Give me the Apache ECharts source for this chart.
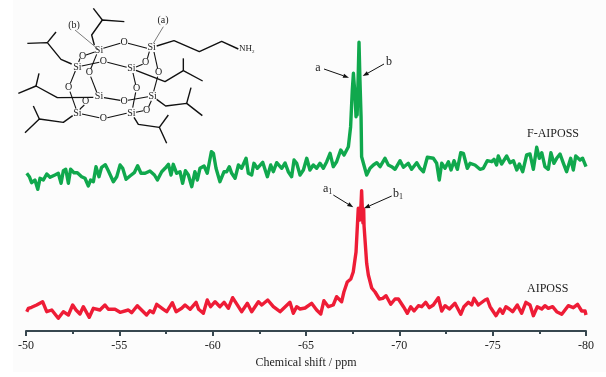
<!DOCTYPE html>
<html>
<head>
<meta charset="utf-8">
<style>html,body{margin:0;padding:0;background:#fff}#chart{width:606px;height:377px}</style>
<script src="https://cdn.jsdelivr.net/npm/echarts@6/dist/echarts.min.js"></script>
</head>
<body>
<div id="chart"></div>
<script>
// values, intensity in arbitrary units
const ppmF = [-50.04,-50.18,-50.30,-50.48,-50.63,-50.75,-50.93,-51.11,-51.29,-51.55,-51.73,-51.88,-52.00,-52.13,-52.27,-52.39,-52.57,-52.75,-52.98,-53.16,-53.34,-53.46,-53.61,-53.75,-53.91,-54.05,-54.25,-54.41,-54.68,-54.86,-55.04,-55.18,-55.36,-55.57,-55.80,-55.98,-56.16,-56.38,-56.64,-56.88,-57.04,-57.27,-57.45,-57.63,-57.77,-57.89,-58.07,-58.25,-58.39,-58.54,-58.70,-58.88,-59.05,-59.18,-59.32,-59.54,-59.71,-59.93,-60.04,-60.18,-60.39,-60.61,-60.75,-60.89,-61.02,-61.20,-61.38,-61.55,-61.79,-61.91,-62.09,-62.21,-62.39,-62.68,-62.93,-63.11,-63.25,-63.43,-63.70,-63.88,-64.05,-64.23,-64.36,-64.50,-64.68,-64.86,-65.04,-65.21,-65.39,-65.57,-65.75,-65.93,-66.11,-66.29,-66.46,-66.64,-66.86,-67.04,-67.27,-67.39,-67.48,-67.54,-67.63,-67.68,-67.71,-67.74,-67.80,-67.84,-67.89,-67.95,-67.98,-68.07,-68.25,-68.43,-68.61,-68.79,-68.97,-69.23,-69.41,-69.59,-69.77,-70.04,-70.22,-70.48,-70.66,-70.93,-71.11,-71.29,-71.50,-71.82,-72.00,-72.14,-72.27,-72.45,-72.63,-72.77,-72.93,-73.11,-73.29,-73.43,-73.64,-73.79,-74.05,-74.32,-74.50,-74.71,-74.95,-75.07,-75.21,-75.30,-75.48,-75.75,-75.93,-76.11,-76.29,-76.43,-76.61,-76.82,-77.00,-77.18,-77.36,-77.50,-77.63,-77.80,-77.98,-78.12,-78.28,-78.43,-78.61,-78.79,-78.96,-79.18,-79.32,-79.45,-79.68,-79.82,-80.00];
const intensityF = [157.7,154.3,148.3,151,141.7,152.7,151,157,153.7,156,157.7,147.7,160.3,161.7,147.7,161.7,158.3,158.3,154.3,152.7,145,151,149.3,164.3,154.3,163.7,166.3,160.3,149.3,154.3,166,162.7,151.7,155,158.3,165.3,157.7,157.7,160,156,151,159.3,162.7,166.7,156,166.7,157.7,159.3,147.7,160.3,156,144.3,159.3,151,162.7,165,157.7,179.3,177.7,162.7,149.3,159.3,159.3,164.3,157.7,152.7,166,162.7,172.7,157.7,156,167.7,162.7,168.7,154.3,166,159.3,168.3,162.7,168,159.3,154.3,171,167.7,156,161,172.7,161,166,162.7,167.7,162.7,169.3,177.7,164.3,169.3,181,176,184.3,204.3,241,257.7,234.3,214.3,240,216,257.7,288.7,251,214.3,174.3,172.7,156,162.7,166,168.3,164.3,172.7,166,164.3,161.7,170.3,163.7,167.7,161.7,168.3,162.7,159.3,173.7,172.7,167.7,151,167.7,162.7,169.3,161,170.3,161.7,178.3,177.7,162.7,167.7,166,161.7,162.7,170.3,169.3,171.7,166,175,167,175,168.3,170.3,161,167,159.3,176,177,161.7,183.7,172.7,178.3,164.3,161.7,178.3,167.7,172.7,177,167.7,159.3,172.7,161,175,171,172.7,164.3];

const ppmA = [-50.04,-50.13,-50.30,-50.57,-50.89,-51.11,-51.38,-51.73,-52.00,-52.27,-52.50,-52.68,-52.89,-53.07,-53.39,-53.61,-53.96,-54.23,-54.41,-54.77,-55.04,-55.48,-55.66,-55.96,-56.46,-56.64,-56.82,-57.00,-57.36,-57.54,-57.84,-58.04,-58.34,-58.52,-58.79,-59.11,-59.25,-59.50,-59.71,-59.89,-60.13,-60.39,-60.61,-60.84,-61.07,-61.38,-61.55,-61.86,-62.09,-62.45,-62.63,-62.95,-63.25,-63.61,-64.14,-64.32,-64.50,-64.68,-64.95,-65.30,-65.57,-65.79,-65.96,-66.20,-66.46,-66.64,-66.91,-67.03,-67.21,-67.40,-67.53,-67.68,-67.75,-67.80,-67.89,-67.95,-67.98,-68.02,-68.05,-68.09,-68.11,-68.25,-68.34,-68.52,-68.70,-68.93,-69.11,-69.29,-69.54,-69.77,-69.95,-70.22,-70.43,-70.61,-70.79,-71.02,-71.20,-71.41,-71.61,-71.82,-72.09,-72.27,-72.45,-72.68,-72.98,-73.29,-73.46,-73.70,-73.88,-74.00,-74.23,-74.32,-74.59,-74.71,-74.86,-75.18,-75.39,-75.54,-75.71,-75.89,-76.07,-76.32,-76.55,-76.78,-77.00,-77.18,-77.39,-77.63,-77.80,-77.98,-78.21,-78.43,-78.70,-79.05,-79.32,-79.55,-79.77,-79.95,-80.00];
const intensityA = [19.3,22.7,23.7,26,29.3,19.3,21,12.7,19.3,16,26,21,17,24.3,13.7,22.7,21,26,21.7,21.7,18.7,21,18.3,25.3,16,20.3,18.3,26.7,21.7,19.3,28.3,19.3,22.7,26,21.7,28.7,21.7,17.7,31,24.3,29.3,24.3,28.7,22.7,33.3,24.3,19.3,27.7,19.3,29.3,26,31,24.3,19.3,28.7,17.7,24.3,22,23,27.7,21,17,30.3,24.3,26,34.3,29.3,39,49,52,59,79,104.3,122.7,111,127.7,140.3,121,108,122,105,67.7,56,43,39,32,32.7,35.3,26.7,32,32,24.3,17.7,24.3,20,25.3,24.3,28.7,23.3,26,33.3,20,25.3,22,27.7,16.7,24.3,28.7,26,32.7,26,27.7,31,32,24.3,15.3,22,17.7,24.3,22,19.3,26,17.7,28.7,26,15.3,24.3,22,25.3,22.7,24.3,19.3,16.7,25.3,23.3,26.7,20,20,16];

const xRange = [-80, -50];
const xStep = 5;

const seriesNames = ['F-AIPOSS', 'AIPOSS'];
const seriesColors = ['#10a84d', '#ee1c36'];
const axisTitle = 'Chemical shift / ppm';

const serif = '"Liberation Serif", "Times New Roman", serif';
const inkColor = '#1c1c1c';

// POSS structure, traced at 3x from the figure
const chains = [
  [[283,135],[275,105],[307,60],[373,65]], [[307,60],[280,25]],
  [[215,192],[183,178],[142,128],[82,130]], [[142,128],[168,96]],
  [[280,292],[172,293],[108,258],[55,280]], [[108,258],[117,220]],
  [[218,347],[190,367],[118,357],[75,398]], [[118,357],[100,318]],
  [[402,352],[415,373],[478,382],[500,430]], [[478,382],[505,345]],
  [[470,298],[497,318],[560,310],[607,347]], [[560,310],[573,263]],
  [[408,211],[495,245],[550,212],[608,243]], [[550,212],[550,175]],
  [[470,138],[522,122],[598,155],[665,124],[715,147]]
];
const cageBonds = [
  [[310,145],[361,130]], [[384,130],[441,145]],
  [[284,156],[258,165]], [[240,175],[236,186]],
  [[448,155],[442,176]], [[428,193],[408,201]],
  [[245,198],[298,187]], [[322,187],[380,202]],
  [[290,163],[272,207]], [[272,230],[290,276]],
  [[462,156],[473,206]], [[473,230],[461,274]],
  [[226,213],[211,250]], [[210,275],[228,326]],
  [[399,219],[407,254]], [[407,277],[398,323]],
  [[312,293],[361,301]], [[384,301],[444,290]],
  [[454,302],[446,320]], [[430,332],[408,337]],
  [[240,327],[253,315]],
  [[246,342],[298,353]], [[322,353],[380,340]]
];
const siAtoms = [[297,151],[455,143],[232,201],[394,206],[297,290],[458,289],[232,340],[394,339]];
const oAtoms = [[372,127],[248,168],[437,187],[310,185],[268,218],[476,218],[206,262],[410,265],[372,303],[440,330],[257,305],[310,355]];

function atomText(p, t) {
  return {
    type: 'text', x: p[0] / 3, y: p[1] / 3,
    style: { text: t, font: '10px ' + serif, fill: inkColor, align: 'center', verticalAlign: 'middle' }
  };
}
function label(x, y, t, size, align) {
  return {
    type: 'text', x, y,
    style: { text: t, font: (size || 12) + 'px ' + serif, fill: inkColor, align: align || 'center', verticalAlign: 'middle' }
  };
}
function subLabel(x, y, t, s, size) {
  const big = size || 12;
  return {
    type: 'text', x, y,
    style: {
      text: '{m|' + t + '}{s|' + s + '}', fill: inkColor, align: 'left', verticalAlign: 'middle',
      rich: {
        m: { font: big + 'px ' + serif, fill: inkColor },
        s: { font: (big - 4) + 'px ' + serif, fill: inkColor, verticalAlign: 'bottom', padding: [6, 0, 0, 0] }
      }
    }
  };
}
function polyline(pts, width, color) {
  return {
    type: 'polyline',
    shape: { points: pts.map(p => [p[0] / 3, p[1] / 3]) },
    style: { stroke: color || '#111', lineWidth: width, fill: 'none', lineJoin: 'round' }
  };
}
function arrow(x1, y1, x2, y2) {
  const a = Math.atan2(y2 - y1, x2 - x1);
  const len = 6, w = 2.2;
  const bx = x2 - len * Math.cos(a), by = y2 - len * Math.sin(a);
  return [
    { type: 'line', shape: { x1, y1, x2: bx, y2: by }, style: { stroke: '#111', lineWidth: 1 } },
    {
      type: 'polygon',
      shape: { points: [[x2, y2], [bx - w * Math.sin(a), by + w * Math.cos(a)], [bx + w * Math.sin(a), by - w * Math.cos(a)]] },
      style: { fill: '#111' }
    }
  ];
}

const graphic = [
  { type: 'rect', z: -10, silent: true, shape: { x: 13, y: 0, width: 593, height: 372 }, style: { fill: '#fcfcfc' } }
];
chains.forEach(c => graphic.push(polyline(c, 1.4)));
cageBonds.forEach(c => graphic.push(polyline(c, 1.1)));
siAtoms.forEach(p => graphic.push(atomText(p, 'Si')));
oAtoms.forEach(p => graphic.push(atomText(p, 'O')));
graphic.push(subLabel(239, 49, 'NH', '2', 9));
graphic.push(label(163, 20, '(a)', 10));
graphic.push(label(74, 25, '(b)', 10));
graphic.push(polyline([[490,80],[460,130]], 0.7, '#444'));
graphic.push(polyline([[225,90],[295,148]], 0.7, '#444'));

graphic.push(label(318, 68, 'a'));
graphic.push(...arrow(324, 69, 349, 77.7));
graphic.push(label(389, 62, 'b'));
graphic.push(...arrow(384, 64, 362.7, 76));
graphic.push(subLabel(323, 189, 'a', '1'));
graphic.push(...arrow(333.3, 195, 353.3, 207.3));
graphic.push(subLabel(393, 194, 'b', '1'));
graphic.push(...arrow(391.7, 196, 364, 208.3));
graphic.push(label(527, 134, seriesNames[0], 12, 'left'));
graphic.push(label(527, 289, seriesNames[1], 12, 'left'));

function zipPoints(xs, ys) {
  return xs.map((x, i) => [x, ys[i]]);
}

const chart = echarts.init(document.getElementById('chart'));
chart.setOption({
  animation: false,
  backgroundColor: '#fff',
  grid: { left: 26, right: 20, top: 0, bottom: 46 },
  xAxis: {
    type: 'value',
    inverse: true,
    min: xRange[0],
    max: xRange[1],
    interval: xStep,
    name: axisTitle,
    nameLocation: 'middle',
    nameGap: 24,
    nameTextStyle: { fontFamily: serif, fontSize: 12, color: inkColor },
    axisLine: { onZero: false, lineStyle: { color: '#37474f', width: 2 } },
    axisTick: { length: 5, lineStyle: { color: '#37474f', width: 2 } },
    minorTick: { show: true, splitNumber: 2, length: 3, lineStyle: { color: '#37474f', width: 2 } },
    axisLabel: { fontFamily: serif, fontSize: 12, color: inkColor, margin: 9 },
    splitLine: { show: false }
  },
  yAxis: { type: 'value', min: 0, max: 331, show: false },
  graphic,
  series: [
    {
      name: seriesNames[0], type: 'line', data: zipPoints(ppmF, intensityF), showSymbol: false,
      clip: false, lineStyle: { color: seriesColors[0], width: 3.4, join: 'round' }
    },
    {
      name: seriesNames[1], type: 'line', data: zipPoints(ppmA, intensityA), showSymbol: false,
      clip: false, lineStyle: { color: seriesColors[1], width: 3.4, join: 'round' }
    }
  ]
});
</script>
</body>
</html>
